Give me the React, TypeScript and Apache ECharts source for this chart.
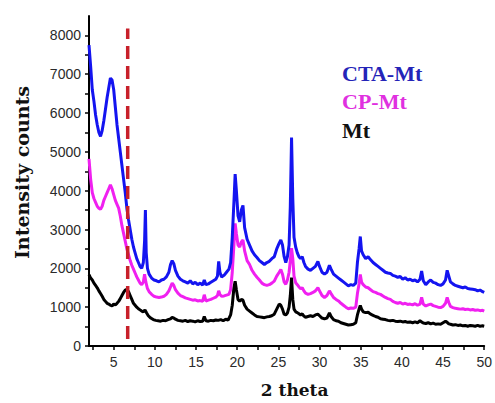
import React, { useEffect, useRef } from "react";
import * as echarts from "echarts";

const seriesNames = ["CTA-Mt", "CP-Mt", "Mt"];
const xTickValues = [2.5, 5, 7.5, 10, 12.5, 15, 17.5, 20, 22.5, 25, 27.5, 30, 32.5, 35, 37.5, 40, 42.5, 45, 47.5, 50];
const xLabelValues = [5, 10, 15, 20, 25, 30, 35, 40, 45, 50];
const yTickValues = [0, 500, 1000, 1500, 2000, 2500, 3000, 3500, 4000, 4500, 5000, 5500, 6000, 6500, 7000, 7500, 8000];
const yLabelValues = [0, 1000, 2000, 3000, 4000, 5000, 6000, 7000, 8000];
const markerLine: number[][] = [[6.7, 180], [6.7, 8180]];

const ctaMt: number[][] = [
  [2.0, 7750], [2.2, 7200], [2.4, 6600], [2.6, 6300], [2.8, 5950], [3.0, 5700], [3.2, 5500], [3.4, 5400],
  [3.6, 5550], [3.8, 5800], [4.0, 6100], [4.2, 6400], [4.4, 6650], [4.6, 6900], [4.8, 6850], [5.0, 6600],
  [5.2, 6150], [5.4, 5700], [5.6, 5350], [5.8, 5000], [6.0, 4650], [6.2, 4300], [6.4, 3950], [6.6, 3550],
  [6.8, 3250], [7.0, 3000], [7.2, 2750], [7.4, 2550], [7.6, 2400], [7.8, 2250], [8.0, 2150], [8.2, 2050],
  [8.4, 2000], [8.6, 2150], [8.75, 2700], [8.85, 3500], [8.95, 2400], [9.1, 2000], [9.3, 1850], [9.6, 1750],
  [9.9, 1700], [10.2, 1680], [10.5, 1650], [10.8, 1700], [11.1, 1720], [11.4, 1780], [11.7, 1900], [11.9, 2100],
  [12.1, 2200], [12.3, 2120], [12.5, 1950], [12.8, 1800], [13.1, 1720], [13.4, 1680], [13.7, 1650], [14.0, 1620],
  [14.3, 1680], [14.6, 1600], [14.9, 1640], [15.2, 1580], [15.5, 1620], [15.8, 1570], [16.0, 1700], [16.2, 1580],
  [16.5, 1600], [16.8, 1640], [17.1, 1680], [17.4, 1720], [17.6, 1800], [17.75, 2180], [17.9, 1900], [18.1, 1780],
  [18.4, 1820], [18.7, 1900], [19.0, 1980], [19.2, 2150], [19.4, 2800], [19.6, 3700], [19.75, 4430], [19.9, 4000],
  [20.1, 3350], [20.3, 3200], [20.5, 3500], [20.7, 3620], [20.9, 3050], [21.2, 2750], [21.5, 2600], [21.8, 2450],
  [22.1, 2350], [22.4, 2280], [22.7, 2200], [23.0, 2150], [23.3, 2100], [23.6, 2150], [23.9, 2180], [24.2, 2250],
  [24.5, 2300], [24.8, 2500], [25.1, 2650], [25.3, 2730], [25.5, 2600], [25.7, 2300], [25.9, 2150], [26.1, 2300],
  [26.3, 2600], [26.45, 3600], [26.6, 5370], [26.75, 3800], [26.9, 2800], [27.1, 2550], [27.3, 2400], [27.5, 2300],
  [27.7, 2250], [27.9, 2300], [28.1, 2150], [28.3, 2050], [28.6, 1980], [28.9, 1950], [29.2, 2000], [29.5, 2050],
  [29.8, 2180], [30.0, 2050], [30.3, 1900], [30.6, 1850], [30.9, 1900], [31.2, 2080], [31.4, 1980], [31.7, 1850],
  [32.0, 1800], [32.3, 1750], [32.6, 1700], [32.9, 1650], [33.2, 1600], [33.5, 1550], [33.8, 1580], [34.1, 1560],
  [34.4, 1620], [34.6, 2150], [34.8, 2500], [34.95, 2820], [35.1, 2450], [35.3, 2350], [35.6, 2250], [35.9, 2300],
  [36.2, 2220], [36.5, 2150], [36.8, 2100], [37.1, 2050], [37.4, 2000], [37.7, 1950], [38.0, 1900], [38.3, 1880],
  [38.6, 1870], [38.9, 1820], [39.2, 1800], [39.5, 1770], [39.8, 1790], [40.1, 1720], [40.4, 1760], [40.7, 1700],
  [41.0, 1720], [41.3, 1680], [41.6, 1700], [41.9, 1650], [42.2, 1720], [42.4, 1930], [42.6, 1680], [42.9, 1580],
  [43.2, 1650], [43.5, 1700], [43.8, 1640], [44.1, 1620], [44.4, 1580], [44.7, 1560], [45.0, 1600], [45.3, 1700],
  [45.5, 1950], [45.7, 1800], [45.9, 1650], [46.2, 1600], [46.5, 1560], [46.8, 1540], [47.1, 1520], [47.4, 1500],
  [47.7, 1520], [48.0, 1480], [48.3, 1470], [48.6, 1460], [48.9, 1450], [49.2, 1420], [49.5, 1440], [49.8, 1400],
  [50.0, 1380],
];

const cpMt: number[][] = [
  [2.0, 4820], [2.2, 4300], [2.4, 3950], [2.6, 3800], [2.8, 3700], [3.0, 3600], [3.2, 3550], [3.4, 3520],
  [3.6, 3600], [3.8, 3750], [4.0, 3850], [4.2, 3950], [4.4, 4050], [4.6, 4150], [4.8, 4050], [5.0, 3900],
  [5.2, 3750], [5.4, 3650], [5.6, 3550], [5.8, 3350], [6.0, 3100], [6.2, 2900], [6.4, 2700], [6.6, 2500],
  [6.8, 2350], [7.0, 2200], [7.2, 2080], [7.4, 1980], [7.6, 1880], [7.8, 1780], [8.0, 1700], [8.2, 1620],
  [8.4, 1580], [8.6, 1650], [8.75, 1850], [8.9, 1650], [9.1, 1480], [9.3, 1400], [9.6, 1330], [9.9, 1280],
  [10.2, 1260], [10.5, 1250], [10.8, 1260], [11.1, 1280], [11.4, 1330], [11.7, 1420], [11.9, 1520], [12.1, 1620],
  [12.3, 1560], [12.5, 1450], [12.8, 1360], [13.1, 1300], [13.4, 1270], [13.7, 1240], [14.0, 1220], [14.3, 1200],
  [14.6, 1180], [14.9, 1190], [15.2, 1160], [15.5, 1170], [15.8, 1150], [16.0, 1320], [16.2, 1160], [16.5, 1180],
  [16.8, 1200], [17.1, 1230], [17.4, 1260], [17.6, 1300], [17.75, 1420], [17.9, 1330], [18.1, 1280], [18.4, 1290],
  [18.7, 1310], [19.0, 1330], [19.2, 1450], [19.4, 1900], [19.6, 2600], [19.75, 3160], [19.9, 2900], [20.1, 2600],
  [20.3, 2550], [20.5, 2680], [20.7, 2730], [20.9, 2450], [21.2, 2200], [21.5, 2100], [21.8, 1950], [22.1, 1850],
  [22.4, 1770], [22.7, 1700], [23.0, 1620], [23.3, 1580], [23.6, 1560], [23.9, 1580], [24.2, 1620], [24.5, 1670],
  [24.8, 1800], [25.1, 1900], [25.3, 1970], [25.5, 1850], [25.7, 1650], [25.9, 1590], [26.1, 1700], [26.3, 1900],
  [26.45, 2200], [26.6, 2520], [26.75, 2250], [26.9, 1800], [27.1, 1630], [27.3, 1580], [27.5, 1520], [27.7, 1480],
  [27.9, 1500], [28.1, 1420], [28.3, 1360], [28.6, 1330], [28.9, 1350], [29.2, 1380], [29.5, 1420], [29.8, 1500],
  [30.0, 1420], [30.3, 1300], [30.6, 1250], [30.9, 1300], [31.2, 1420], [31.4, 1350], [31.7, 1250], [32.0, 1200],
  [32.3, 1160], [32.6, 1100], [32.9, 1050], [33.2, 1000], [33.5, 960], [33.8, 980], [34.1, 970], [34.4, 1000],
  [34.6, 1350], [34.8, 1600], [34.95, 1840], [35.1, 1650], [35.3, 1580], [35.6, 1520], [35.9, 1500], [36.2, 1450],
  [36.5, 1400], [36.8, 1380], [37.1, 1350], [37.4, 1330], [37.7, 1290], [38.0, 1250], [38.3, 1220], [38.6, 1200],
  [38.9, 1150], [39.2, 1120], [39.5, 1100], [39.8, 1120], [40.1, 1080], [40.4, 1100], [40.7, 1070], [41.0, 1080],
  [41.3, 1060], [41.6, 1090], [41.9, 1050], [42.2, 1080], [42.4, 1250], [42.6, 1080], [42.9, 1030], [43.2, 1060],
  [43.5, 1080], [43.8, 1040], [44.1, 1020], [44.4, 1000], [44.7, 990], [45.0, 1020], [45.3, 1100], [45.5, 1250],
  [45.7, 1120], [45.9, 1020], [46.2, 990], [46.5, 970], [46.8, 960], [47.1, 950], [47.4, 960], [47.7, 940],
  [48.0, 950], [48.3, 930], [48.6, 940], [48.9, 920], [49.2, 930], [49.5, 910], [49.8, 920], [50.0, 900],
];

const mt: number[][] = [
  [2.0, 1840], [2.2, 1750], [2.4, 1700], [2.6, 1620], [2.8, 1560], [3.0, 1500], [3.2, 1420], [3.4, 1350],
  [3.6, 1280], [3.8, 1200], [4.0, 1150], [4.2, 1100], [4.4, 1080], [4.6, 1050], [4.8, 1030], [5.0, 1080],
  [5.2, 1060], [5.4, 1100], [5.6, 1150], [5.8, 1220], [6.0, 1300], [6.2, 1380], [6.4, 1440], [6.6, 1460],
  [6.8, 1400], [7.0, 1300], [7.2, 1200], [7.4, 1100], [7.6, 1050], [7.8, 1000], [8.0, 960], [8.2, 930],
  [8.4, 900], [8.6, 880], [8.8, 930], [9.0, 850], [9.2, 780], [9.5, 720], [9.8, 680], [10.1, 660],
  [10.4, 650], [10.7, 640], [11.0, 660], [11.3, 650], [11.6, 680], [11.9, 700], [12.1, 740], [12.3, 720],
  [12.5, 690], [12.8, 660], [13.1, 650], [13.4, 640], [13.7, 660], [14.0, 630], [14.3, 650], [14.6, 640],
  [14.9, 620], [15.2, 650], [15.5, 630], [15.8, 640], [16.0, 760], [16.2, 650], [16.5, 640], [16.8, 660],
  [17.1, 650], [17.4, 670], [17.7, 660], [18.0, 680], [18.3, 650], [18.6, 690], [18.9, 670], [19.2, 800],
  [19.4, 1050], [19.6, 1500], [19.75, 1670], [19.9, 1450], [20.1, 1200], [20.3, 1150], [20.5, 1200], [20.7, 1180],
  [20.9, 1050], [21.2, 950], [21.5, 900], [21.8, 850], [22.1, 800], [22.4, 760], [22.7, 750], [23.0, 740],
  [23.3, 730], [23.6, 750], [23.9, 760], [24.2, 780], [24.5, 820], [24.8, 950], [25.1, 1080], [25.3, 1050],
  [25.5, 950], [25.7, 820], [25.9, 800], [26.1, 850], [26.3, 1000], [26.45, 1300], [26.6, 1760], [26.75, 1200],
  [26.9, 950], [27.1, 880], [27.3, 860], [27.5, 830], [27.7, 800], [27.9, 830], [28.1, 770], [28.3, 740],
  [28.6, 760], [28.9, 780], [29.2, 760], [29.5, 800], [29.8, 820], [30.0, 780], [30.3, 720], [30.6, 700],
  [30.9, 720], [31.2, 850], [31.4, 760], [31.7, 680], [32.0, 650], [32.3, 640], [32.6, 600], [32.9, 580],
  [33.2, 560], [33.5, 540], [33.8, 550], [34.1, 560], [34.4, 600], [34.6, 800], [34.8, 950], [34.95, 1040],
  [35.1, 950], [35.3, 880], [35.6, 860], [35.9, 870], [36.2, 820], [36.5, 790], [36.8, 760], [37.1, 740],
  [37.4, 700], [37.7, 690], [38.0, 680], [38.3, 660], [38.6, 650], [38.9, 660], [39.2, 640], [39.5, 630],
  [39.8, 640], [40.1, 620], [40.4, 630], [40.7, 610], [41.0, 620], [41.3, 600], [41.6, 620], [41.9, 600],
  [42.2, 650], [42.4, 620], [42.6, 590], [42.9, 580], [43.2, 600], [43.5, 570], [43.8, 590], [44.1, 560],
  [44.4, 570], [44.7, 560], [45.0, 600], [45.3, 640], [45.5, 610], [45.7, 570], [45.9, 560], [46.2, 540],
  [46.5, 550], [46.8, 530], [47.1, 540], [47.4, 520], [47.7, 530], [48.0, 510], [48.3, 530], [48.6, 520],
  [48.9, 510], [49.2, 530], [49.5, 510], [49.8, 520], [50.0, 510],
];

const lineColors = ["#1414f0", "#f020f0", "#000000"];
const legendColors = ["#2424b8", "#e030e0", "#111111"];

export default function App() {
  const ref = useRef<HTMLDivElement>(null);
  useEffect(() => {
    if (!ref.current) return;
    const chart = echarts.init(ref.current, null, { renderer: "svg" });
    const axisFont = { color: "#2a2a2a", fontSize: 14, fontFamily: "Liberation Sans, Arial, sans-serif" };
    const titleFont = { color: "#111", fontWeight: "bold" as const, fontFamily: "DejaVu Serif, serif" };
    const seriesData = [ctaMt, cpMt, mt];
    chart.setOption({
      animation: false,
      backgroundColor: "#ffffff",
      grid: { left: 89, right: 5, top: 16, bottom: 54, containLabel: false },
      legend: {
        orient: "vertical",
        left: 332,
        top: 54,
        icon: "none",
        itemWidth: 0,
        itemHeight: 20,
        itemGap: 0,
        selectedMode: false,
        textStyle: { fontSize: 22, fontWeight: "bold", fontFamily: "Liberation Serif, Times New Roman, serif", lineHeight: 28.5 },
        data: seriesNames.map((n, i) => ({ name: n, textStyle: { color: legendColors[i] } })),
      },
      xAxis: {
        type: "value",
        min: 2,
        max: 50,
        name: "2 theta",
        nameLocation: "middle",
        nameGap: 35,
        nameTextStyle: { ...titleFont, fontSize: 17, padding: [0, 0, 0, 16] },
        splitLine: { show: false },
        axisLine: { show: true, onZero: false, lineStyle: { color: "#000", width: 2 } },
        axisTick: { show: true, inside: false, length: 4, customValues: xTickValues, lineStyle: { color: "#000", width: 1.5 } },
        axisLabel: { ...axisFont, margin: 9, customValues: xLabelValues },
      },
      yAxis: {
        type: "value",
        min: 0,
        max: 8500,
        interval: 1000,
        name: "Intensity counts",
        nameLocation: "middle",
        nameGap: 58,
        nameTextStyle: { ...titleFont, fontSize: 19, padding: [0, 0, 0, 17] },
        splitLine: { show: false },
        axisLine: { show: true, onZero: false, lineStyle: { color: "#000", width: 2 } },
        axisTick: { show: true, inside: false, length: 4, customValues: yTickValues, lineStyle: { color: "#000", width: 1.5 } },
        axisLabel: { ...axisFont, margin: 8, customValues: yLabelValues, formatter: (v: number) => String(v) },
      },
      series: [
        ...seriesNames.map((n, i) => ({
          name: n,
          type: "line",
          data: seriesData[i],
          showSymbol: false,
          symbol: "none",
          z: 3 - i,
          lineStyle: { color: lineColors[i], width: 3 },
          itemStyle: { color: lineColors[i] },
        })),
        {
          name: "marker",
          type: "line",
          data: markerLine,
          showSymbol: false,
          symbol: "none",
          z: 5,
          lineStyle: { color: "#c8202a", width: 3.5, type: [13, 7] },
        },
      ],
    });
    return () => chart.dispose();
  }, []);
  return <div ref={ref} style={{ position: "fixed", left: 0, top: 0, width: 495, height: 403 }} />;
}
